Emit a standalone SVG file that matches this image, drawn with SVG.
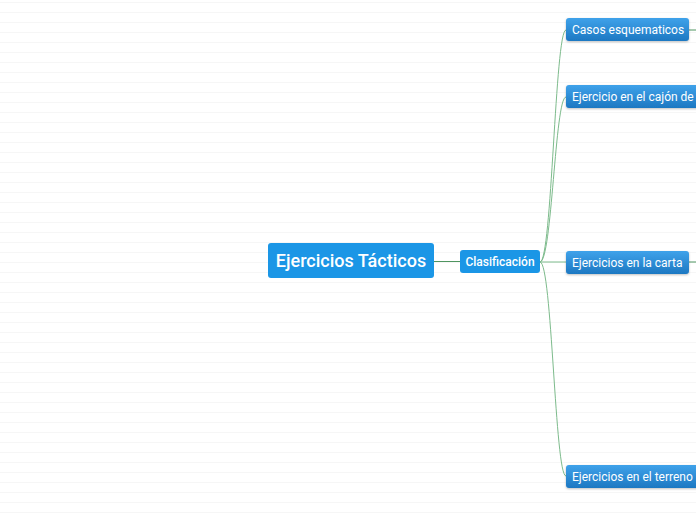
<svg xmlns="http://www.w3.org/2000/svg" width="696" height="520" viewBox="0 0 696 520">
<defs>
<pattern id="bgp" width="696" height="10" patternUnits="userSpaceOnUse" y="0">
<rect width="696" height="10" fill="#ffffff"/>
<line x1="0" y1="2.5" x2="696" y2="2.5" stroke="#f6f6f6" stroke-width="1"/>
</pattern>
<linearGradient id="cg" x1="0" y1="0" x2="0" y2="1">
<stop offset="0" stop-color="#3fa2ea"/>
<stop offset="1" stop-color="#1d78c2"/>
</linearGradient>
<filter id="sh" x="-10%" y="-20%" width="120%" height="150%">
<feDropShadow dx="0" dy="1" stdDeviation="0.8" flood-color="#000" flood-opacity="0.25"/>
</filter>
</defs>
<style>
.main{fill:#1b96e6}
.child{fill:url(#cg);filter:url(#sh)}
.t{font-family:Roboto,"Liberation Sans",sans-serif;fill:#ffffff}
.conn{fill:none;stroke:#7dbb8c;stroke-width:1}
.conn2{fill:none;stroke:#4f9560;stroke-width:1}
</style>
<rect width="696" height="520" fill="url(#bgp)"/>
<g id="connectors">
<line class="conn2" x1="434" y1="261.5" x2="460" y2="261.5"/>
<path class="conn" d="M540,262 C552,262 555,30 566,30"/>
<path class="conn" d="M540,262 C552,262 555,97 566,97"/>
<path class="conn" d="M540,262 L566,262"/>
<path class="conn" d="M540,262 C552,262 555,476 566,476"/>
<line class="conn2" x1="689" y1="30" x2="696" y2="30"/>
<line class="conn2" x1="689" y1="262" x2="696" y2="262"/>
</g>
<g id="root">
<rect class="main" x="268" y="243" width="166" height="35" rx="3"/>
<text class="t" x="351" y="267" font-size="18" font-weight="500" text-anchor="middle">Ejercicios Tácticos</text>
</g>
<g id="clasificacion">
<rect class="main" x="460" y="250" width="80" height="23" rx="3"/>
<text class="t" x="500" y="265.5" font-size="12" font-weight="500" text-anchor="middle">Clasificación</text>
</g>
<g id="casos">
<rect class="child" x="566" y="18" width="123" height="23" rx="3"/>
<text class="t" x="572" y="34" font-size="12">Casos esquematicos</text>
</g>
<g id="cajon">
<rect class="child" x="566" y="85" width="140" height="23" rx="3"/>
<text class="t" x="572" y="101" font-size="12">Ejercicio en el cajón de</text>
</g>
<g id="carta">
<rect class="child" x="566" y="251" width="123" height="23" rx="3"/>
<text class="t" x="572" y="267" font-size="12">Ejercicios en la carta</text>
</g>
<g id="terreno">
<rect class="child" x="566" y="465" width="140" height="23" rx="3"/>
<text class="t" x="572" y="481" font-size="12">Ejercicios en el terreno</text>
</g>
</svg>
